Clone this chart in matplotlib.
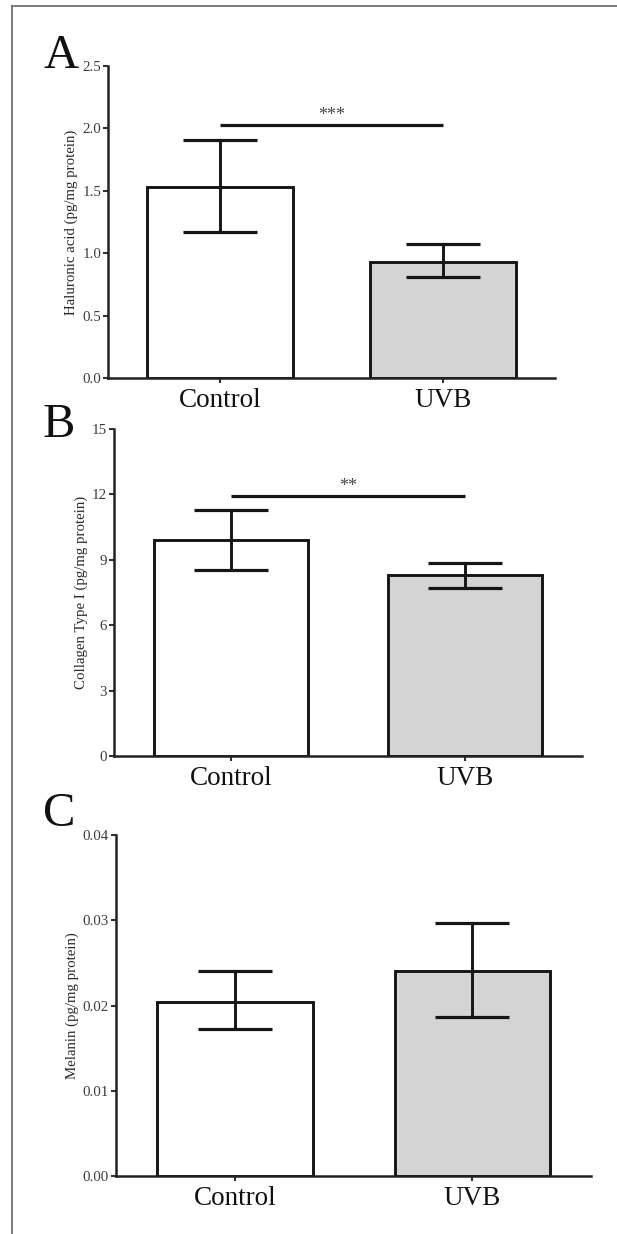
import numpy as np
import matplotlib
matplotlib.use("Agg")
import matplotlib.pyplot as plt
from matplotlib.lines import Line2D

plt.rcParams['font.family'] = ['Liberation Serif', 'DejaVu Serif']

# data (mean, lower and upper end of the error bar)
groups = ["Control", "UVB"]

ha_mean = [1.53, 0.93]
ha_low = [1.17, 0.81]
ha_high = [1.91, 1.07]

col_mean = [9.9, 8.3]
col_low = [8.53, 7.70]
col_high = [11.28, 8.85]

mel_mean = [0.0204, 0.0240]
mel_low = [0.0172, 0.0187]
mel_high = [0.0240, 0.0297]

panel_letters = ["A", "B", "C"]
ylabels = ["Haluronic acid (pg/mg protein)",
           "Collagen Type I (pg/mg protein)",
           "Melanin (pg/mg protein)"]
yticks = [[0.0, 0.5, 1.0, 1.5, 2.0, 2.5],
          [0, 3, 6, 9, 12, 15],
          [0.00, 0.01, 0.02, 0.03, 0.04]]
ytick_fmt = ["{:.1f}", "{:.0f}", "{:.2f}"]
sig_marks = ["***", "**", None]
sig_levels = [2.03, 11.93, None]

bar_colors = ["white", "#d4d4d4"]
edge = "#151515"

fig = plt.figure(figsize=(6.17, 12.34), dpi=100)

# axes rectangles in figure fraction (left, bottom, width, height)
rects = [(0.175, 0.6937, 0.7245, 0.2528),
         (0.1848, 0.3874, 0.7585, 0.2650),
         (0.188, 0.0470, 0.7700, 0.2763)]

means = [ha_mean, col_mean, mel_mean]
lows = [ha_low, col_low, mel_low]
highs = [ha_high, col_high, mel_high]

for i in range(3):
    ax = fig.add_axes(rects[i])
    x = np.arange(len(groups))
    m = np.array(means[i])
    lo = np.array(lows[i])
    hi = np.array(highs[i])

    ax.bar(x, m, width=0.655, color=bar_colors, edgecolor=edge, linewidth=2.1, zorder=2)
    ax.errorbar(x, m, yerr=[m - lo, hi - m], fmt='none', ecolor=edge,
                elinewidth=2.1, capsize=26.5, capthick=2.3, zorder=3)

    ax.set_xlim(-0.5, 1.5)
    ax.set_ylim(yticks[i][0], yticks[i][-1])
    ax.set_yticks(yticks[i])
    ax.set_yticklabels([ytick_fmt[i].format(v) for v in yticks[i]])
    ax.set_xticks(x)
    ax.set_xticklabels(groups, fontsize=19.5, color="#111111")

    for s in ["top", "right"]:
        ax.spines[s].set_visible(False)
    for s in ["left", "bottom"]:
        ax.spines[s].set_linewidth(1.8)
        ax.spines[s].set_color("#222222")

    ax.tick_params(axis='y', length=3.5, width=1.5, pad=1.5, labelsize=10.8,
                   labelcolor="#3c3c3c", color="#333333")
    ax.tick_params(axis='x', length=3.5, width=1.5, pad=4, color="#333333")
    ax.set_ylabel(ylabels[i], fontsize=10.7, color="#2a2a2a", labelpad=3)

    if sig_marks[i] is not None:
        ax.plot([0, 1], [sig_levels[i], sig_levels[i]], color=edge, linewidth=2.3,
                solid_capstyle='butt', zorder=3)
        ax.annotate(sig_marks[i], xy=(0.5, sig_levels[i]), xytext=(0, 0.5),
                    textcoords='offset points', ha='center', va='bottom',
                    fontsize=13, color="#444444")

    # panel letter
    fig.text(43 / 617, 1 - [68, 437, 826][i] / 1234, panel_letters[i],
             fontsize=35, ha='left', va='baseline', color="#111111")

# outer frame (left and top edges visible)
fig.add_artist(Line2D([12 / 617, 12 / 617], [0, 1 - 6 / 1234], color="#666666", linewidth=1.2))
fig.add_artist(Line2D([12 / 617, 1], [1 - 6 / 1234, 1 - 6 / 1234], color="#666666", linewidth=1.2))

fig.savefig("out.png", dpi=100)
